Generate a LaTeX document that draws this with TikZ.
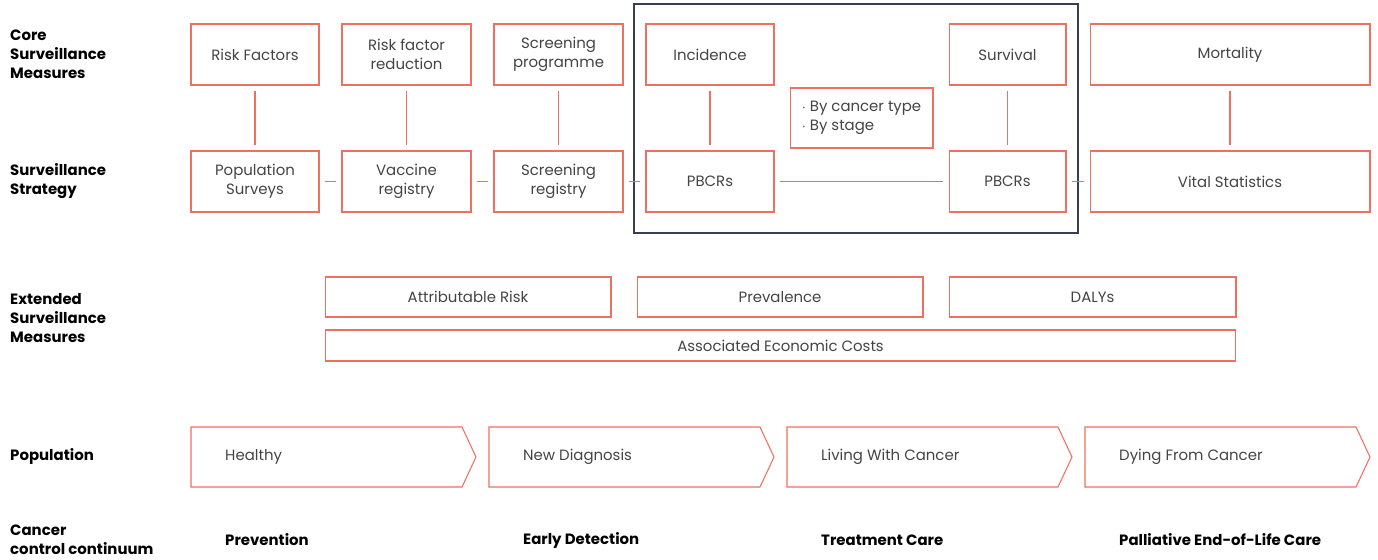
\documentclass[tikz,border=0pt]{standalone}
\usepackage{fontspec}
\setmainfont{Poppins}
\usepackage{tikz}
\usetikzlibrary{positioning}
\definecolor{cred}{RGB}{238,112,96}
\definecolor{cframe}{RGB}{58,62,85}
\definecolor{ctext}{RGB}{68,68,68}
\tikzset{
  mbox/.style={rectangle,draw=cred,line width=0.6pt,fill=white,align=center,
    inner sep=2pt,font=\fontsize{8.5}{10.8}\selectfont,text=ctext},
  rowlab/.style={anchor=west,align=left,font=\fontsize{8.5}{10.8}\selectfont\bfseries},
  link/.style={draw=cred,line width=0.6pt,shorten <=0.11cm,shorten >=0.11cm},
  chev/.style={draw=cred,line width=0.6pt},
  poplab/.style={anchor=west,font=\fontsize{8.5}{10.8}\selectfont,text=ctext},
  stagelab/.style={anchor=west,font=\fontsize{8.5}{10.8}\selectfont\bfseries}
}
\begin{document}
\begin{tikzpicture}[x=0.02cm,y=-0.02cm]
  \useasboundingbox (0,0) rectangle (1378,559);
  % row labels
  \node[rowlab] (lcore) at (4,54) {Core\\Surveillance\\Measures};
  \node[rowlab] (lstrat) at (4,181) {Surveillance\\Strategy};
  \node[rowlab] (lext) at (4,318) {Extended\\Surveillance\\Measures};
  \node[rowlab] (lpop) at (4,456) {Population};
  \node[rowlab] (lcont) at (4,540) {Cancer\\control continuum};
  % core measures
  \node[mbox,minimum width=2.56cm,minimum height=1.22cm] (rf) at (255,54.5) {Risk Factors};
  \node[mbox,minimum width=2.58cm,minimum height=1.22cm] (rfr) at (406.5,54.5) {Risk factor\\reduction};
  \node[mbox,minimum width=2.58cm,minimum height=1.22cm] (scp) at (558.5,54.5) {Screening\\programme};
  \node[mbox,minimum width=2.56cm,minimum height=1.22cm] (inc) at (710,54.5) {Incidence};
  \node[mbox,minimum width=2.34cm,minimum height=1.22cm] (surv) at (1007.5,54.5) {Survival};
  \node[mbox,minimum width=5.6cm,minimum height=1.22cm] (mort) at (1230,54.5) {Mortality};
  \node[mbox,minimum width=2.86cm,minimum height=1.2cm,align=left] (bytype) at (861.5,118) {$\cdot$ By cancer type\\$\cdot$ By stage};
  % strategy
  \node[mbox,minimum width=2.56cm,minimum height=1.22cm] (pop) at (255,181.5) {Population\\Surveys};
  \node[mbox,minimum width=2.58cm,minimum height=1.22cm] (vac) at (406.5,181.5) {Vaccine\\registry};
  \node[mbox,minimum width=2.58cm,minimum height=1.22cm] (scr) at (558.5,181.5) {Screening\\registry};
  \node[mbox,minimum width=2.56cm,minimum height=1.22cm] (pbcra) at (710,181.5) {PBCRs};
  \node[mbox,minimum width=2.34cm,minimum height=1.22cm] (pbcrb) at (1007.5,181.5) {PBCRs};
  \node[mbox,minimum width=5.6cm,minimum height=1.22cm] (vital) at (1230,181.5) {Vital Statistics};
  \draw[cframe,line width=0.7pt] (634,4) rectangle (1078,233);
  \foreach \a/\b in {rf/pop,rfr/vac,scp/scr,inc/pbcra,surv/pbcrb,mort/vital}
    \draw[link] (\a) -- (\b);
  \foreach \a/\b in {pop/vac,vac/scr,scr/pbcra,pbcra/pbcrb,pbcrb/vital}
    \draw[link] (\a) -- (\b);
  % extended measures
  \node[mbox,minimum width=5.72cm,minimum height=0.8cm] (ar) at (468,297) {Attributable Risk};
  \node[mbox,minimum width=5.72cm,minimum height=0.8cm] (prev) at (780,297) {Prevalence};
  \node[mbox,minimum width=5.74cm,minimum height=0.8cm] (daly) at (1092.5,297) {DALYs};
  \node[mbox,minimum width=18.22cm,minimum height=0.62cm] (aec) at (780.5,345.5) {Associated Economic Costs};
  % population chevrons and continuum
  \foreach \x/\pname/\sname in {191/Healthy/Prevention,489/New Diagnosis/Early Detection,
      787/Living With Cancer/Treatment Care,1085/Dying From Cancer/Palliative End-of-Life Care}{
    \draw[chev] (\x,427) -- ++(271,0) -- ++(14,30) -- ++(-14,30) -- ++(-271,0) -- cycle;
    \node[poplab] at (\x+28,456.5) {\pname};
    \node[stagelab] at (\x+28,540) {\sname};
  }
\end{tikzpicture}
\end{document}
